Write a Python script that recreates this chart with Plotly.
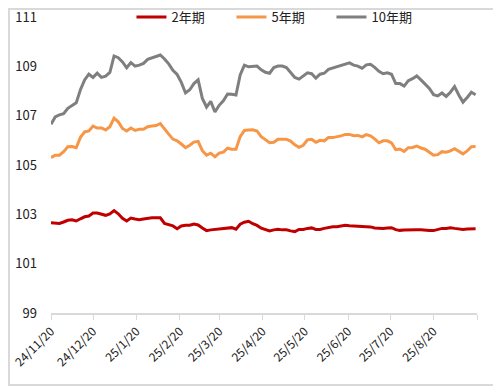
import pandas as pd
import plotly.graph_objects as go

# sample dates (every 3 days)
dates = pd.date_range("2024-11-20", periods=102, freq="3D")

y2 = [102.66, 102.64, 102.63, 102.69, 102.76, 102.78, 102.73, 102.82, 102.90, 102.93,
      103.05, 103.05, 103.00, 102.96, 103.02, 103.15, 103.02, 102.84, 102.73, 102.85,
      102.81, 102.78, 102.81, 102.84, 102.86, 102.86, 102.86, 102.63, 102.58, 102.53,
      102.42, 102.53, 102.56, 102.56, 102.61, 102.57, 102.45, 102.34, 102.37, 102.39,
      102.41, 102.44, 102.46, 102.46, 102.40, 102.60, 102.68, 102.72, 102.62, 102.55,
      102.44, 102.38, 102.33, 102.37, 102.39, 102.37, 102.37, 102.33, 102.30, 102.39,
      102.39, 102.43, 102.45, 102.39, 102.39, 102.43, 102.47, 102.50, 102.50, 102.53,
      102.56, 102.54, 102.53, 102.53, 102.53, 102.53, 102.49, 102.45, 102.43, 102.43,
      102.45, 102.46, 102.38, 102.35, 102.36, 102.37, 102.39, 102.38, 102.37, 102.35,
      102.34, 102.34, 102.39, 102.43, 102.43, 102.46, 102.43, 102.40, 102.39, 102.41,
      102.40, 102.42]

y5 = [105.30, 105.40, 105.40, 105.54, 105.74, 105.75, 105.70, 106.12, 106.34, 106.38,
      106.58, 106.50, 106.50, 106.42, 106.55, 106.90, 106.75, 106.48, 106.38, 106.50,
      106.40, 106.45, 106.45, 106.55, 106.58, 106.60, 106.68, 106.45, 106.25, 106.05,
      105.98, 105.85, 105.70, 105.80, 105.93, 105.96, 105.58, 105.40, 105.48, 105.33,
      105.48, 105.52, 105.68, 105.64, 105.64, 106.15, 106.40, 106.42, 106.43, 106.38,
      106.15, 106.03, 105.90, 105.92, 106.04, 106.04, 106.04, 105.97, 105.82, 105.72,
      105.80, 106.02, 106.04, 105.92, 106.00, 105.98, 106.11, 106.11, 106.13, 106.18,
      106.24, 106.24, 106.19, 106.20, 106.14, 106.23, 106.18, 106.06, 105.90, 105.98,
      105.98, 105.90, 105.62, 105.65, 105.55, 105.70, 105.71, 105.77, 105.69, 105.64,
      105.52, 105.40, 105.42, 105.54, 105.52, 105.57, 105.66, 105.57, 105.45, 105.57,
      105.74, 105.75]

y10 = [106.65, 106.95, 107.03, 107.08, 107.30, 107.42, 107.52, 108.05, 108.45, 108.68,
       108.55, 108.72, 108.55, 108.60, 108.75, 109.42, 109.35, 109.18, 108.94, 109.15,
       109.01, 109.05, 109.12, 109.28, 109.35, 109.42, 109.46, 109.30, 109.10, 108.84,
       108.67, 108.35, 107.92, 108.05, 108.30, 108.45, 107.70, 107.35, 107.58, 107.15,
       107.42, 107.60, 107.88, 107.87, 107.84, 108.65, 109.05, 108.98, 109.01, 109.01,
       108.86, 108.76, 108.72, 108.95, 109.01, 109.01, 108.95, 108.75, 108.55, 108.48,
       108.62, 108.74, 108.70, 108.52, 108.68, 108.72, 108.88, 108.93, 108.99, 109.05,
       109.08, 109.14, 109.05, 109.01, 108.92, 109.06, 109.08, 108.96, 108.80, 108.70,
       108.74, 108.68, 108.30, 108.30, 108.20, 108.42, 108.50, 108.61, 108.45, 108.26,
       108.10, 107.85, 107.80, 107.92, 107.78, 107.95, 108.18, 107.84, 107.55, 107.74,
       107.95, 107.85]

tick_dates = ["2024-11-20", "2024-12-20", "2025-01-20", "2025-02-20", "2025-03-20",
              "2025-04-20", "2025-05-20", "2025-06-20", "2025-07-20", "2025-08-20",
              "2025-09-20"]
tick_labels = ["24/11/20", "24/12/20", "25/1/20", "25/2/20", "25/3/20",
               "25/4/20", "25/5/20", "25/6/20", "25/7/20", "25/8/20", ""]

series = [("2年期", y2, "#C00000"), ("5年期", y5, "#F79646"), ("10年期", y10, "#7F7F7F")]

fig = go.Figure()
for name, vals, col in series:
    fig.add_trace(go.Scatter(x=dates, y=vals, mode="lines", name=name,
                             line=dict(color=col, width=3)))

font_fam = "Noto Sans CJK SC, Noto Sans, sans-serif"
fig.update_layout(
    width=493, height=378,
    margin=dict(l=43, r=24, t=9, b=73, autoexpand=False),
    paper_bgcolor="white", plot_bgcolor="white",
    font=dict(family=font_fam, size=13, color="#222"),
    showlegend=True,
    legend=dict(orientation="h", x=0.541, xanchor="center", y=1.0, yanchor="middle",
                font=dict(size=13, color="#222"), bgcolor="rgba(0,0,0,0)",
                entrywidth=55, entrywidthmode="pixels", tracegroupgap=0),
    xaxis=dict(type="date", range=["2024-11-20", "2025-09-20"],
               tickvals=tick_dates, ticktext=tick_labels, tickangle=-45,
               showgrid=False, zeroline=False, showline=True, linecolor="#D9D9D9",
               linewidth=1.5, ticks="outside", ticklen=5, tickcolor="#D9D9D9",
               automargin=False, ticklabeloverflow="allow",
               tickfont=dict(size=12, color="#222")),
    yaxis=dict(range=[99, 111], tickvals=[99, 101, 103, 105, 107, 109, 111],
               showgrid=False, zeroline=False, showline=False, automargin=False,
               ticklabeloverflow="allow",
               ticklabelstandoff=13, tickfont=dict(size=13, color="#222")),
)

# outer chart border
fig.add_shape(type="rect", xref="paper", yref="paper",
              x0=-0.0986, x1=1.054, y0=-0.243, y1=1.027,
              line=dict(color="#D9D9D9", width=2), fillcolor="rgba(0,0,0,0)", layer="below")

fig.write_html("out.html")
